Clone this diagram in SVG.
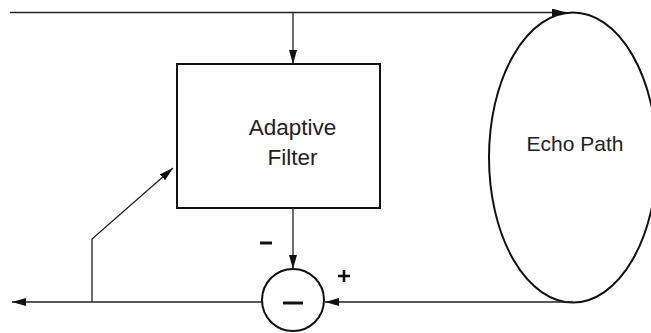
<svg xmlns="http://www.w3.org/2000/svg" width="651" height="333" viewBox="0 0 651 333">
<style>
.ln{stroke:#222;stroke-width:1.3;fill:none}
.sh{stroke:#111;stroke-width:2;fill:#fff}
.t{font-family:"Liberation Sans",Arial,sans-serif;font-size:22.5px;fill:#222;text-anchor:middle}
.t2{font-family:"Liberation Sans",Arial,sans-serif;font-size:21px;fill:#222;text-anchor:middle}
</style>
<defs>
<marker id="ah" markerWidth="14" markerHeight="8" refX="14" refY="4" orient="auto" markerUnits="userSpaceOnUse">
<path d="M0,0 L14,4 L0,8 Z" fill="#111"/>
</marker>
</defs>
<rect width="651" height="333" fill="#fff"/>
<g id="echo-path">
<ellipse class="sh" cx="573" cy="157.5" rx="84" ry="145"/>
<text class="t2" x="575" y="151">Echo Path</text>
</g>
<g id="adaptive-filter">
<rect class="sh" x="177" y="64" width="203" height="144"/>
<text class="t" x="292.5" y="134.5">Adaptive</text>
<text class="t" x="292.5" y="165">Filter</text>
</g>
<g id="subtractor">
<circle class="sh" cx="293" cy="300" r="31"/>
<line x1="283" y1="303" x2="303" y2="303" stroke="#111" stroke-width="3"/>
</g>
<g id="connectors">
<line class="ln" x1="10" y1="12.5" x2="566" y2="12.5" marker-end="url(#ah)"/>
<line class="ln" x1="293" y1="12.5" x2="293" y2="64" marker-end="url(#ah)"/>
<line class="ln" x1="293" y1="208" x2="293" y2="269" marker-end="url(#ah)"/>
<line class="ln" x1="573" y1="302" x2="325" y2="302" marker-end="url(#ah)"/>
<line class="ln" x1="262" y1="302" x2="12" y2="302" marker-end="url(#ah)"/>
<polyline class="ln" points="92,302 92,239 173,168" marker-end="url(#ah)"/>
</g>
<g id="labels">
<line x1="260" y1="243" x2="272" y2="243" stroke="#111" stroke-width="3"/>
<line x1="338" y1="276" x2="350" y2="276" stroke="#111" stroke-width="2.6"/>
<line x1="344" y1="270" x2="344" y2="282" stroke="#111" stroke-width="2.6"/>
</g>
</svg>
